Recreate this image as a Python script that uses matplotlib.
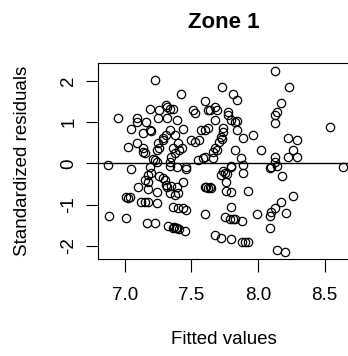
import matplotlib
matplotlib.use("Agg")
import matplotlib.pyplot as plt
import numpy as np

plt.rcParams['font.family'] = ['Liberation Sans', 'DejaVu Sans']
plt.rcParams['axes.unicode_minus'] = False

# fitted values and standardized residuals
fitted = [
    7.225, 7.42, 6.95, 7.09, 7.09, 7.19, 7.31, 7.32, 7.34, 7.26,
    7.36, 7.045, 7.16, 7.19, 7.20, 7.14, 7.25, 7.32, 7.39, 7.44,
    7.34, 7.31, 7.285, 7.375, 7.40, 7.41, 7.025, 7.09, 7.14, 7.14,
    7.25, 7.24, 7.285, 7.26, 7.36, 7.35, 7.375, 7.525, 7.56, 7.60,
    7.625, 7.60, 7.51, 7.525, 7.625, 7.225, 7.24, 7.34, 7.55, 7.59,
    8.13, 8.23, 7.73, 7.81, 7.84, 7.675, 7.69, 7.64, 7.68, 7.775,
    7.775, 7.80, 7.825, 7.84, 8.17, 8.14, 8.13, 8.13, 8.54, 7.575,
    7.74, 7.84, 7.725, 7.71, 7.69, 7.89, 7.96, 8.225, 8.29, 7.825,
    8.025, 8.26, 8.225, 8.29, 7.675, 7.66, 7.60, 7.66, 7.875, 8.13,
    7.43, 7.50, 7.15, 7.21, 7.74, 7.73,
    6.875, 7.05, 7.19, 7.46, 7.89, 8.10, 8.14, 7.80, 8.64, 7.34,
    7.39, 7.46, 7.175, 7.20, 7.26, 7.285, 7.15, 7.175, 7.44, 7.10,
    7.175, 7.24, 7.31, 7.32, 7.39, 7.34, 7.375, 7.40, 7.61, 7.625,
    7.01, 7.025, 7.04, 7.125, 7.15, 7.175, 7.24, 7.36, 7.40, 7.46,
    6.88, 7.01, 7.60, 7.17, 7.225, 7.325, 7.36, 7.385, 7.41, 7.45,
    7.37, 7.39, 7.80, 7.89, 8.09, 8.13, 8.18, 7.725, 7.75, 7.76,
    7.64, 7.65, 7.76, 7.80, 7.925, 7.80, 7.75, 7.79, 7.81, 7.88,
    7.99, 7.675, 7.725, 7.80, 7.88, 7.925, 7.90, 8.26, 8.175, 8.125,
    8.10, 8.21, 8.09, 8.09, 8.14, 8.20, 7.60, 7.35, 7.30, 7.74,
    7.77, 7.825, 7.44,
]
std_resid = [
    2.02, 1.68, 1.09, 1.09, 1.01, 1.31, 1.41, 1.37, 1.31, 1.29,
    1.31, 0.83, 1.01, 0.81, 0.77, 0.73, 1.09, 1.09, 1.05, 0.83,
    0.81, 0.69, 0.61, 0.69, 0.48, 0.32, 0.40, 0.48, 0.36, 0.28,
    0.48, 0.32, 0.56, 0.36, 0.36, 0.16, 0.24, 0.52, 0.56, 0.81,
    0.85, 1.51, 1.29, 1.21, 1.29, 0.08, 0.04, 0.04, 0.08, 0.12,
    2.24, 1.85, 1.85, 1.69, 1.53, 1.37, 1.29, 1.29, 1.06, 1.25,
    1.17, 1.05, 1.01, 1.03, 1.45, 1.25, 1.17, 0.98, 0.89, 0.81,
    0.85, 0.81, 0.64, 0.52, 0.32, 0.61, 0.69, 0.61, 0.56, 0.32,
    0.32, 0.32, 0.16, 0.16, 0.36, 0.28, 0.16, 0.12, 0.12, 0.15,
    0.37, 0.56, 0.24, 0.10, 0.75, 0.60,
    -0.05, -0.15, -0.08, -0.08, -0.04, -0.08, -0.06, -0.06, -0.10, -0.07,
    -0.10, -0.14, -0.28, -0.24, -0.32, -0.36, -0.40, -0.45, -0.45, -0.57,
    -0.63, -0.69, -0.53, -0.57, -0.57, -0.73, -0.77, -0.73, -0.57, -0.61,
    -0.81, -0.85, -0.82, -0.93, -0.94, -0.93, -0.97, -1.05, -1.09, -1.13,
    -1.28, -1.33, -1.22, -1.44, -1.44, -1.53, -1.57, -1.57, -1.60, -1.63,
    -1.55, -1.58, -0.08, -0.23, -0.12, 0.04, -0.31, -0.28, -0.24, -0.45,
    -0.57, -0.61, -0.66, -0.70, -0.66, -1.05, -1.31, -1.36, -1.36, -1.41,
    -1.23, -1.74, -1.82, -1.84, -1.92, -1.92, -1.92, -0.79, -0.95, -1.09,
    -1.17, -1.20, -1.29, -1.57, -2.10, -2.14, -0.58, -0.55, -0.40, -0.19,
    -0.27, -1.36, -1.08,
]
x_ticks = [7.0, 7.5, 8.0, 8.5]
x_ticklabels = ['7.0', '7.5', '8.0', '8.5']
y_ticks = [-2, -1, 0, 1, 2]
y_ticklabels = ['-2', '-1', '0', '1', '2']

fig = plt.figure(figsize=(3.48, 3.56), dpi=100)
ax = fig.add_axes([98 / 348, 97 / 356, 252 / 348, 196 / 356])

ax.plot(fitted, std_resid, linestyle='none', marker='o', markersize=6,
        markerfacecolor='none', markeredgecolor='black', markeredgewidth=0.9)
ax.axhline(0, color='black', linewidth=1.0)

ax.set_xlim(6.80, 8.69)
ax.set_ylim(-2.32, 2.43)

ax.set_xticks(x_ticks)
ax.set_xticklabels(x_ticklabels)
ax.set_yticks(y_ticks)
ax.set_yticklabels(y_ticklabels, rotation=90, va='center')

ax.tick_params(axis='both', length=9, width=0.8, labelsize=13.5, colors='black')
ax.tick_params(axis='x', pad=11)
ax.tick_params(axis='y', pad=6)
for s in ax.spines.values():
    s.set_linewidth(0.8)

ax.set_xlabel('Fitted values', fontsize=13.5, va='center')
ax.xaxis.set_label_coords(0.5, -0.413)
ax.set_ylabel('Standardized residuals', fontsize=13.5, va='center')
ax.yaxis.set_label_coords(-0.30, 0.5)
ax.set_title('Zone 1', fontsize=16, fontweight='bold', y=1.178, pad=0)

fig.savefig('out.png', dpi=100)
